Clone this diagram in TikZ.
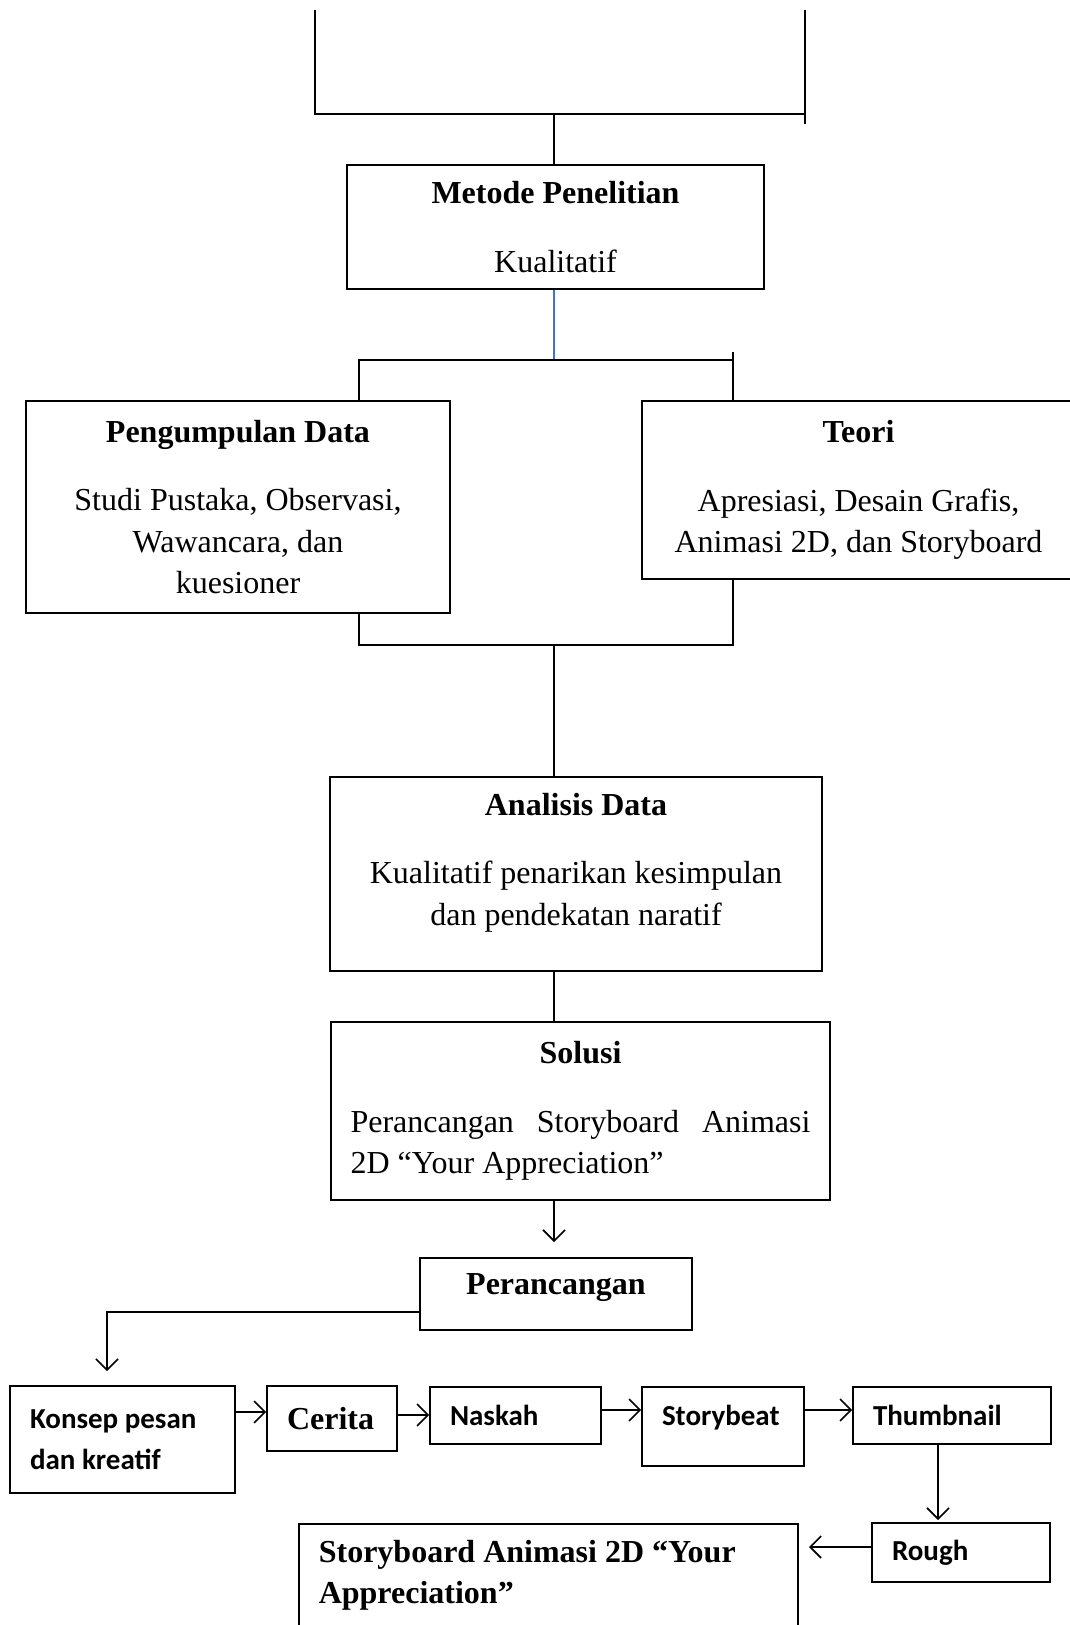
\documentclass[tikz,border=0pt]{standalone}
\usepackage{fontspec}
\setmainfont{Liberation Serif}
\newfontfamily\calibri{Carlito}
\usetikzlibrary{arrows.meta,positioning}

\begin{document}
\begin{tikzpicture}[x=1pt, y=-1pt,
bignode/.style={draw=black, line width=1.6pt, align=center, inner sep=0pt, font=\fontsize{32}{41.5}\selectfont},
smallnode/.style={draw=black, line width=1.6pt, align=flush left, inner xsep=20pt, inner ysep=0pt, font=\calibri\bfseries\fontsize{29}{41}\selectfont},
link/.style={line width=1.6pt},
>={Straight Barb[length=11pt,width=22pt]},
]
\useasboundingbox (0,0) rectangle (1070,1625);
%Nodes
\node[bignode, minimum width=417pt, minimum height=124pt] (metode) at (555.5,227) {\textbf{Metode Penelitian}\\[27pt] Kualitatif};
\node[bignode, minimum width=424pt, minimum height=212pt] (pengumpulan) at (238,507) {\textbf{Pengumpulan Data}\\[27pt] Studi Pustaka, Observasi,\\ Wawancara, dan\\ kuesioner};
\node[bignode, minimum width=433pt, minimum height=178pt] (teori) at (858.5,490) {\textbf{Teori}\\[27pt] Apresiasi, Desain Grafis,\\ Animasi 2D, dan Storyboard};
\node[bignode, minimum width=492pt, minimum height=194pt, text depth=30pt] (analisis) at (576,874) {\textbf{Analisis Data}\\[27pt] Kualitatif penarikan kesimpulan\\ dan pendekatan naratif};
\node[bignode, minimum width=499pt, minimum height=178pt] (solusi) at (580.5,1111) {\textbf{Solusi}\\[27pt] \makebox[460pt][s]{Perancangan Storyboard Animasi}\\ \makebox[460pt][l]{2D “Your Appreciation”}};
\node[bignode, minimum width=272pt, minimum height=72pt, text depth=20pt] (perancangan) at (556,1294) {\textbf{Perancangan}};
\node[smallnode, text width=185pt, minimum height=107pt] (konsep) at (122.5,1439.5) {Konsep pesan\\ dan kreatif};
\node[smallnode, text width=90pt, minimum height=65pt, font=\bfseries\fontsize{32}{41.5}\selectfont] (cerita) at (332,1418.5) {Cerita};
\node[smallnode, text width=131pt, minimum height=57pt] (naskah) at (515.5,1415.5) {Naskah};
\node[smallnode, text width=122pt, minimum height=79pt, text depth=22pt] (storybeat) at (723,1426.5) {Storybeat};
\node[smallnode, text width=158pt, minimum height=57pt] (thumbnail) at (952,1415.5) {Thumbnail};
\node[smallnode, text width=138pt, minimum height=59pt] (rough) at (961,1552.5) {Rough};
\node[smallnode, anchor=north west, text width=459pt, inner ysep=16pt, text depth=60pt, font=\bfseries\fontsize{32}{41.5}\selectfont] (storyboard) at (298,1523) {Storyboard Animasi 2D “Your\\ Appreciation”};
%Lines
\coordinate (topL) at (315,10);
\coordinate (topR) at (805,10);
\coordinate (topmid) at (554,114);
\draw[link] (topL) -- (315,114) -- (805,114);
\draw[link] (topR) -- (805,124);
\draw[link] (topmid) -- (topmid |- metode.north);
\coordinate (split) at (554,360);
\coordinate (splitL) at (359,360);
\coordinate (splitR) at (733,360);
\draw[line width=1.2pt, draw={rgb,255:red,68;green,114;blue,196}] (metode.south -| split) -- (split);
\draw[link] (splitL |- pengumpulan.north) -- (splitL) -- (splitR);
\draw[link] ([yshift=8pt]splitR) -- (splitR |- teori.north);
\coordinate (merge) at (554,645);
\coordinate (mergeL) at (359,645);
\coordinate (mergeR) at (733,645);
\draw[link] (mergeL |- pengumpulan.south) -- (mergeL) -- (mergeR) -- (mergeR |- teori.south);
\draw[link] (merge) -- (merge |- analisis.north);
\draw[link] (analisis.south -| merge) -- (solusi.north -| merge);
\coordinate (perIn) at (554,1242);
\draw[link,->] (solusi.south -| perIn) -- (perIn);
\coordinate (bend) at (107,1312);
\coordinate (konsepIn) at (107,1371);
\draw[link,->] (perancangan.west |- bend) -- (bend) -- (konsepIn);
\draw[link,->] (konsep.east |- 0,1412) -- (cerita.west |- 0,1412);
\draw[link,->] (cerita.east |- 0,1415) -- (naskah.west |- 0,1415);
\draw[link,->] (naskah.east |- 0,1410) -- (storybeat.west |- 0,1410);
\draw[link,->] (storybeat.east |- 0,1410) -- (thumbnail.west |- 0,1410);
\coordinate (roughIn) at (938,1520);
\draw[link,->] (thumbnail.south -| roughIn) -- (roughIn);
\coordinate (boardIn) at (809,1547);
\draw[link,->] (rough.west |- boardIn) -- (boardIn);
\end{tikzpicture}
\end{document}
